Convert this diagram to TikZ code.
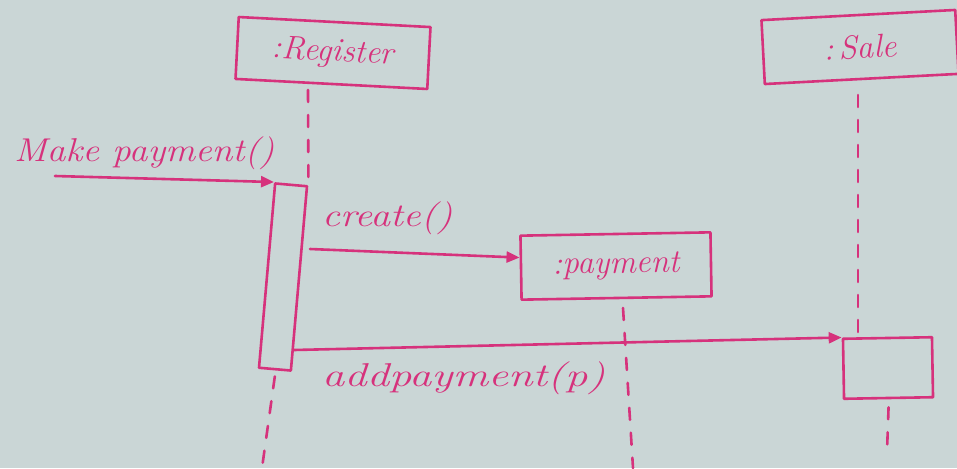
\documentclass[tikz,border=0pt]{standalone}
\usetikzlibrary{arrows.meta}
\definecolor{paper}{RGB}{202,214,214}
\definecolor{ink}{RGB}{214,50,124}
\newcommand{\handfont}{\fontsize{33}{38}\selectfont\itshape}
\begin{document}
\begin{tikzpicture}[x=1pt,y=-1pt,
  pen/.style={draw=ink, line width=2.6pt, line cap=round, line join=round},
  objbox/.style={pen, rectangle, inner sep=0pt, text=ink, font=\handfont},
  actbox/.style={pen, rectangle, inner sep=0pt},
  lifeline/.style={pen, dash pattern=on 12pt off 13pt},
  msg/.style={pen, -{Triangle[length=13pt,width=11pt]}},
  msglabel/.style={text=ink, font=\handfont, inner sep=0pt, anchor=base west}]

% paper
\fill[paper] (0,0) rectangle (957,468);
\useasboundingbox (0,0) rectangle (957,468);

% objects
\node[objbox, minimum width=192pt, minimum height=62pt, rotate=-3] (reg) at (333,53) {:Register};
\node[objbox, minimum width=190pt, minimum height=64pt, rotate=1] (pay) at (616,266) {:payment};
\node[objbox, minimum width=194pt, minimum height=64pt, rotate=3] (sale) at (860,47) {:\,Sale};

% activation bars
\node[actbox, minimum width=32pt, minimum height=185pt, rotate=-5] (regact) at (283,277) {};
\node[actbox, minimum width=89pt, minimum height=60pt, rotate=1] (saleact) at (888,368) {};

% lifeline end points
\coordinate (regtop) at (308,90);
\coordinate (regend) at (262,468);
\coordinate (paytop) at (623,308);
\coordinate (payend) at (633,468);
\coordinate (saletop) at (858,95);
\coordinate (saleend) at (887,452);

% lifelines
\draw[lifeline] (regtop) -- (regact.north east);
\draw[lifeline] ([yshift=-6pt]regact.south) -- (regend);
\draw[lifeline] (paytop) -- (payend);
\draw[lifeline] (saletop) -- (saleact.north west -| saletop);
\draw[lifeline] ([yshift=-8pt]saleact.south) -- (saleend);

% messages
\coordinate (mpstart) at (55,176);
\coordinate (crstart) at (310,249);
\coordinate (apstart) at (294,350);
\draw[msg] (mpstart) -- (regact.north west);
\draw[msg] (crstart) -- (pay.174);
\draw[msg] (apstart) -- (saleact.north west);

% message labels
\node[msglabel] (mplabel) at (14,161) {\scalebox{1.13}[1]{Make payment()}};
\node[msglabel] (crlabel) at (322,226) {\scalebox{1.2}[1]{create()}};
\node[msglabel] (aplabel) at (322,386) {\scalebox{1.35}[1]{addpayment(p)}};
\end{tikzpicture}
\end{document}
